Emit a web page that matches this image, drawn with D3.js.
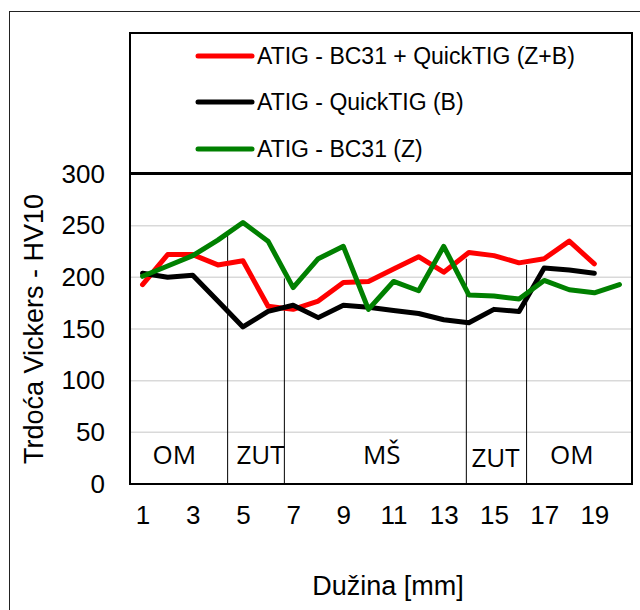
<!DOCTYPE html>
<html>
<head>
<meta charset="utf-8">
<script src="https://cdn.jsdelivr.net/npm/d3@7"></script>
<style>
  body { margin: 0; background: #fff; }
  svg { display: block; font-family: Arial, "Liberation Sans", Helvetica, sans-serif; }
</style>
</head>
<body>
<div id="chart"></div>
<script>
var positions = d3.range(1, 21);
var redValues = [193, 222, 222, 212, 216, 172, 169, 177, 195, 196, 208, 220, 205, 224, 221, 214, 218, 235, 213];
var blackValues = [204, 200, 202, 177, 152, 167, 173, 161, 173, 171, 168, 165, 159, 156, 169, 167, 209, 207, 204];
var greenValues = [201, 211, 221, 236, 253, 235, 190, 218, 230, 169, 196, 187, 230, 183, 182, 179, 197, 188, 185, 193];
var seriesNames = ["ATIG - BC31 + QuickTIG (Z+B)", "ATIG - QuickTIG (B)", "ATIG - BC31 (Z)"];
var seriesColors = ["#ff0000", "#000000", "#008000"];
var xTickValues = [1, 3, 5, 7, 9, 11, 13, 15, 17, 19];
var yTickValues = [0, 50, 100, 150, 200, 250, 300];
// zone dividers (x in mm, top in HV10) and zone labels
var dividerX = [4.39, 6.65, 13.9, 16.3];
var dividerTop = [241, 199, 218, 212];
var zoneNames = ["OM", "ZUT", "MŠ", "ZUT", "OM"];
var zoneCenters = [2.27, 5.7, 10.53, 15.06, 18.1];

var width = 640, height = 610;
var svg = d3.select("#chart").append("svg").attr("width", width).attr("height", height);

var plotLeft = 130, plotRight = 632, plotTop = 174, plotBottom = 484;

var x = d3.scaleLinear().domain([0.5, 20.5]).range([plotLeft, plotRight]);
var y = d3.scaleLinear().domain([0, 300]).range([plotBottom, plotTop]);

// outer chart border
svg.append("rect")
    .attr("x", 9.5).attr("y", 11.5)
    .attr("width", 700).attr("height", 700)
    .attr("fill", "none").attr("stroke", "#222").attr("stroke-width", 1);

// gridlines
svg.append("g")
    .selectAll("line")
    .data(yTickValues.filter(function (d) { return d > 0 && d < 300; }))
    .join("line")
    .attr("x1", plotLeft).attr("x2", plotRight)
    .attr("y1", function (d) { return y(d); })
    .attr("y2", function (d) { return y(d); })
    .attr("stroke", "#d9d9d9").attr("stroke-width", 1.5);

// zone dividers
svg.append("g")
    .selectAll("line")
    .data(dividerX)
    .join("line")
    .attr("x1", function (d) { return x(d); })
    .attr("x2", function (d) { return x(d); })
    .attr("y1", function (d, i) { return y(dividerTop[i]); })
    .attr("y2", plotBottom)
    .attr("stroke", "#000").attr("stroke-width", 1);

// zone labels
svg.append("g")
    .selectAll("text")
    .data(zoneNames)
    .join("text")
    .attr("x", function (d, i) { return x(zoneCenters[i]); })
    .attr("y", function (d, i) { return i == 3 ? 467 : 464; })
    .attr("text-anchor", "middle")
    .style("font-family", "'Open Sans', 'Noto Sans', sans-serif")
    .style("font-size", "26px")
    .text(function (d) { return d; });

// data lines
var line = d3.line()
    .x(function (d, i) { return x(positions[i]); })
    .y(function (d) { return y(d); });

var allSeries = [redValues, blackValues, greenValues];
svg.append("g")
    .selectAll("path")
    .data(allSeries)
    .join("path")
    .attr("d", line)
    .attr("fill", "none")
    .attr("stroke", function (d, i) { return seriesColors[i]; })
    .attr("stroke-width", 5)
    .attr("stroke-linejoin", "round")
    .attr("stroke-linecap", "round");

// plot box
svg.append("rect")
    .attr("x", plotLeft).attr("y", plotTop)
    .attr("width", plotRight - plotLeft).attr("height", plotBottom - plotTop)
    .attr("fill", "none").attr("stroke", "#000").attr("stroke-width", 2);

// axes
var yAxis = d3.axisLeft(y).tickValues(yTickValues).tickSize(0).tickPadding(25);
var gy = svg.append("g").attr("transform", "translate(" + plotLeft + ",0)").call(yAxis);
gy.select(".domain").remove();
gy.selectAll("text").style("font-size", "26px").attr("fill", "#000")
    .style("font-family", "Arial, 'Liberation Sans', sans-serif");

var xAxis = d3.axisBottom(x).tickValues(xTickValues).tickSize(0).tickPadding(22);
var gx = svg.append("g").attr("transform", "translate(0," + plotBottom + ")").call(xAxis);
gx.select(".domain").remove();
gx.selectAll("text").style("font-size", "26px").attr("fill", "#000")
    .style("font-family", "Arial, 'Liberation Sans', sans-serif");

// axis titles
svg.append("text")
    .attr("transform", "translate(43,329) rotate(-90)")
    .attr("text-anchor", "middle")
    .style("font-size", "27px")
    .text("Trdoća Vickers - HV10");

svg.append("text")
    .attr("x", 388).attr("y", 595)
    .attr("text-anchor", "middle")
    .style("font-size", "27px")
    .text("Dužina [mm]");

// legend
var legend = svg.append("g");
legend.append("rect")
    .attr("x", plotLeft).attr("y", 33)
    .attr("width", plotRight - plotLeft).attr("height", 140)
    .attr("fill", "#fff").attr("stroke", "#000").attr("stroke-width", 2);

var legendRows = [56, 102, 149];
var item = legend.selectAll("g.item")
    .data(seriesNames)
    .join("g")
    .attr("class", "item")
    .attr("transform", function (d, i) { return "translate(0," + legendRows[i] + ")"; });

item.append("line")
    .attr("x1", 198).attr("x2", 252)
    .attr("stroke", function (d, i) { return seriesColors[i]; })
    .attr("stroke-width", 5)
    .attr("stroke-linecap", "round");

item.append("text")
    .attr("x", 257).attr("dy", "0.36em")
    .style("font-size", "23px")
    .text(function (d) { return d; });
</script>
</body>
</html>
